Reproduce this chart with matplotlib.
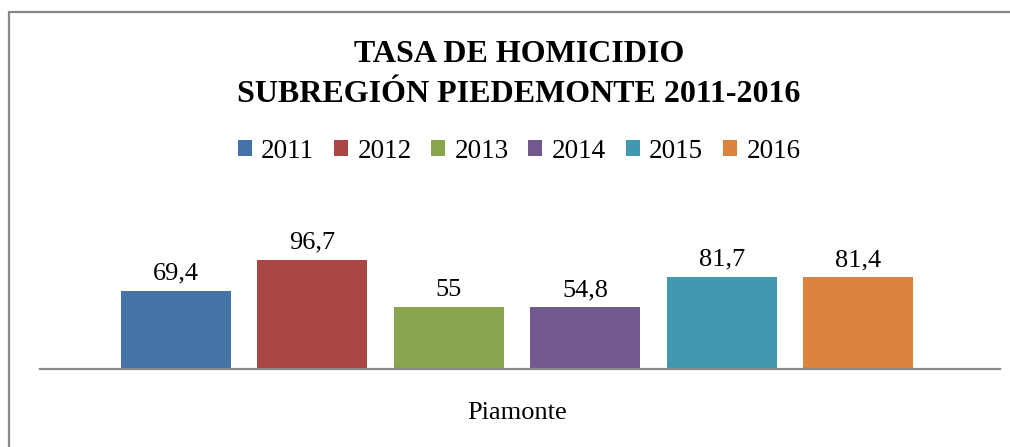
import matplotlib
matplotlib.use("Agg")
import matplotlib.pyplot as plt
from matplotlib.patches import Patch, Rectangle

categories = ["Piamonte"]
years = ["2011", "2012", "2013", "2014", "2015", "2016"]
values = [69.4, 96.7, 55, 54.8, 81.7, 81.4]
labels = ["69,4", "96,7", "55", "54,8", "81,7", "81,4"]
colors = ["#4572A7", "#AA4643", "#89A54E", "#71588F", "#4198AF", "#DB843D"]
title_lines = ["TASA DE HOMICIDIO", "SUBREGIÓN PIEDEMONTE 2011-2016"]

plt.rcParams['font.family'] = ['Liberation Serif', 'DejaVu Serif']

W, H = 1010, 447
fig = plt.figure(figsize=(W / 100, H / 100), dpi=100)

# border
fig.patches.append(Rectangle((9 / W, -0.1), 1.2, 1.1 - 12 / H,
                             transform=fig.transFigure, fill=False,
                             edgecolor="#888888", linewidth=1.6, zorder=0))

ax_left, ax_right = 40, 1000
ax_bottom, ax_top = 369, 200
ax = fig.add_axes([ax_left / W, 1 - ax_bottom / H,
                   (ax_right - ax_left) / W, (ax_bottom - ax_top) / H])

spacing = 136.5
center = 517
width = 110 / spacing
xs = [i - 2.5 for i in range(len(values))]
bars = ax.bar(xs, values, width=width, color=colors, zorder=2)
for x, v, lab in zip(xs, values, labels):
    ax.text(x, v + 5.5, lab, ha="center", va="bottom", fontsize=19)

ax.set_xlim((ax_left - center) / spacing, (ax_right - center) / spacing)
ax.set_ylim(0, (ax_bottom - ax_top) / 1.127)
for s in ["top", "right", "left"]:
    ax.spines[s].set_visible(False)
ax.spines["bottom"].set_color("#888888")
ax.spines["bottom"].set_linewidth(1.6)
ax.set_yticks([])
ax.set_xticks([0])
ax.set_xticklabels(categories, fontsize=19)
ax.tick_params(axis="x", length=0, pad=24)
ax.patch.set_visible(False)

fig.text(519 / W, 1 - 54 / H, title_lines[0], ha="center", va="center",
         fontsize=23, fontweight="bold")
fig.text(519 / W, 1 - 94 / H, title_lines[1], ha="center", va="center",
         fontsize=23, fontweight="bold")

handles = [Patch(facecolor=c, edgecolor="none", label=y) for c, y in zip(colors, years)]
fig.legend(handles=handles, loc="center", bbox_to_anchor=(519 / W, 1 - 151 / H),
           ncol=6, frameon=False, fontsize=19.5, handlelength=0.52, handleheight=0.52,
           handletextpad=0.35, columnspacing=0.72, borderpad=0, borderaxespad=0)

fig.savefig("out.png", dpi=100)
